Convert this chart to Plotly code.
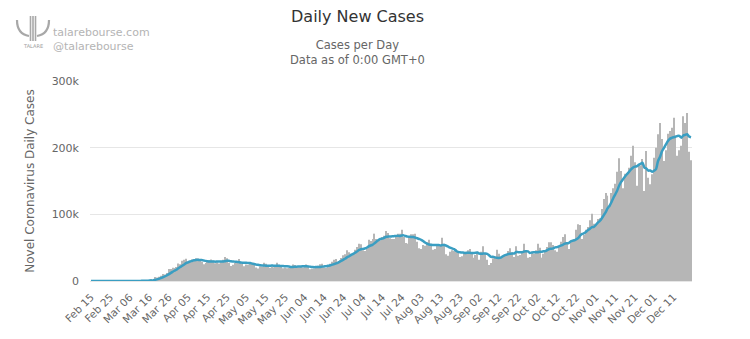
import pandas as pd
import plotly.graph_objects as go

start_date = "2020-02-15"

# Daily new cases, Feb 15 2020 .. Dec 20 2020 (one value per day)
daily_cases = [
    # Feb 15-21
    0, 0, 0, 0, 0, 0, 0,
    # Feb 22-28
    0, 0, 0, 0, 0, 0, 0,
    # Feb 29-Mar 6
    8, 8, 23, 21, 31, 68, 45,
    # Mar 7-13
    140, 116, 65, 376, 322, 382, 516,
    # Mar 14-20
    548, 772, 1133, 1789, 1362, 5894, 5423,
    # Mar 21-27
    6389, 7787, 10571, 9893, 12042, 18058, 17821,
    # Mar 28-Apr 3
    19821, 19408, 20921, 26365, 25200, 30390, 31824,
    # Apr 4-10
    33264, 28219, 29595, 32105, 32133, 34037, 33752,
    # Apr 11-17
    29861, 28917, 25306, 27051, 29164, 31667, 32165,
    # Apr 18-24
    30833, 26641, 28123, 26091, 28702, 31900, 36000,
    # Apr 25-May 1
    34000, 27500, 22400, 24400, 27300, 29500, 33000,
    # May 2-8
    29500, 25500, 22300, 24900, 24400, 28600, 27300,
    # May 9-15
    25500, 20300, 18600, 22000, 21500, 27500, 26000,
    # May 16-22
    24000, 19700, 22000, 20500, 21600, 27300, 24400,
    # May 23-29
    22000, 19200, 19900, 19300, 19500, 22600, 24900,
    # May 30-Jun 5
    24000, 20700, 20700, 21100, 20300, 22400, 24800,
    # Jun 6-12
    22600, 17700, 18300, 18900, 21900, 23000, 25300,
    # Jun 13-19
    25800, 20100, 19500, 24000, 25700, 29000, 32000,
    # Jun 20-26
    33000, 27000, 31000, 34500, 38700, 40000, 46000,
    # Jun 27-Jul 3
    43000, 41000, 41000, 47000, 51000, 56000, 55000,
    # Jul 4-10
    46000, 45000, 49000, 62000, 60000, 63000, 71000,
    # Jul 11-17
    63000, 61000, 61000, 66000, 68000, 75000, 72000,
    # Jul 18-24
    64000, 63000, 63000, 68000, 71000, 71000, 77000,
    # Jul 25-31
    66000, 57000, 56000, 66000, 70000, 70000, 71000,
    # Aug 1-7
    59000, 49000, 48000, 54000, 53000, 58000, 62000,
    # Aug 8-14
    56000, 47000, 48000, 54000, 54000, 53000, 65000,
    # Aug 15-21
    56000, 40000, 38000, 44000, 46000, 45000, 48000,
    # Aug 22-28
    44000, 36000, 37000, 41000, 44000, 46000, 48000,
    # Aug 29-Sep 4
    43000, 35000, 39000, 44000, 32000, 44000, 52000,
    # Sep 5-11
    42000, 32000, 24000, 27000, 34000, 37000, 47000,
    # Sep 12-18
    41000, 35000, 37000, 39000, 40000, 45000, 49000,
    # Sep 19-25
    43000, 36000, 52000, 38000, 39000, 45000, 56000,
    # Sep 26-Oct 2
    46000, 35000, 36000, 43000, 41000, 46000, 56000,
    # Oct 3-9
    50000, 35000, 41000, 45000, 51000, 58000, 58000,
    # Oct 10-16
    54000, 46000, 44000, 53000, 59000, 66000, 70000,
    # Oct 17-23
    58000, 48000, 61000, 61000, 63000, 77000, 85000,
    # Oct 24-30
    84000, 63000, 69000, 77000, 81000, 91000, 101000,
    # Oct 31-Nov 6
    86000, 84000, 93000, 94000, 108000, 123000, 132000,
    # Nov 7-13
    128000, 110000, 132000, 139000, 146000, 164000, 184000,
    # Nov 14-20
    165000, 139000, 161000, 162000, 170000, 188000, 203000,
    # Nov 21-27
    178000, 143000, 175000, 173000, 183000, 135000, 195000,
    # Nov 28-Dec 4
    155000, 145000, 160000, 185000, 200000, 220000, 237000,
    # Dec 5-11
    213000, 180000, 196000, 221000, 225000, 230000, 245000,
    # Dec 12-18
    218000, 188000, 196000, 203000, 247000, 237000, 252000,
    # Dec 19-20
    194000, 181000,
]

# 7-day moving average line (thousands of cases), Feb 15 .. Dec 20
moving_avg_k = [
    # Feb 15-28
    0, 0, 0, 0, 0, 0, 0, 0, 0, 0, 0, 0, 0, 0,
    # Feb 29-Mar 6
    0, 0, 0, 0, 0, 0, 0.03,
    # Mar 7-13
    0.05, 0.06, 0.07, 0.12, 0.16, 0.21, 0.27,
    # Mar 14-20
    0.33, 0.43, 0.58, 0.78, 0.93, 1.72, 2.42,
    # Mar 21-27
    3.25, 4.25, 5.60, 6.76, 8.29, 10.02, 11.79,
    # Mar 28-Apr 3
    13.71, 15.37, 16.85, 19.21, 21.08, 22.85, 24.85,
    # Apr 4-10
    26.77, 28.03, 29.27, 30.09, 31.08, 31.60, 31.87,
    # Apr 11-17
    31.39, 31.49, 30.87, 30.15, 29.73, 29.39, 29.16,
    # Apr 18-24
    29.30, 28.98, 29.38, 29.24, 29.17, 29.21, 29.76,
    # Apr 25-May 1
    30.21, 30.33, 29.51, 29.27, 29.07, 28.73, 28.30,
    # May 2-8
    27.66, 27.37, 27.36, 27.43, 27.01, 26.89, 26.07,
    # May 9-15
    25.50, 24.76, 24.23, 23.81, 23.40, 23.24, 23.06,
    # May 16-22
    22.84, 22.76, 23.24, 23.03, 23.04, 23.01, 22.79,
    # May 23-29
    22.50, 22.43, 22.13, 21.96, 21.66, 20.99, 21.06,
    # May 30-Jun 5
    21.34, 21.56, 21.67, 21.93, 22.04, 22.01, 22.00,
    # Jun 6-12
    21.80, 21.37, 21.03, 20.71, 20.94, 21.03, 21.10,
    # Jun 13-19
    21.56, 21.90, 22.07, 22.80, 23.34, 24.20, 25.16,
    # Jun 20-26
    26.19, 27.17, 28.81, 30.31, 32.17, 33.74, 35.74,
    # Jun 27-Jul 3
    37.17, 39.17, 40.60, 42.39, 44.14, 46.43, 47.71,
    # Jul 4-10
    48.14, 48.71, 49.86, 52.00, 53.29, 54.29, 56.57,
    # Jul 11-17
    59.00, 61.29, 63.00, 63.57, 64.71, 66.43, 66.57,
    # Jul 18-24
    66.71, 67.00, 67.29, 67.57, 68.00, 67.43, 68.14,
    # Jul 25-31
    68.43, 67.57, 66.57, 66.29, 66.14, 66.00, 65.14,
    # Aug 1-7
    64.14, 63.00, 61.86, 60.14, 57.71, 56.00, 54.71,
    # Aug 8-14
    54.29, 54.00, 54.00, 54.00, 54.14, 53.43, 53.86,
    # Aug 15-21
    53.86, 52.86, 51.43, 50.00, 48.86, 47.71, 45.29,
    # Aug 22-28
    43.57, 43.00, 42.86, 42.43, 42.14, 42.29, 42.29,
    # Aug 29-Sep 4
    42.14, 42.00, 42.29, 42.71, 41.00, 40.71, 41.29,
    # Sep 5-11
    41.14, 40.71, 38.57, 36.14, 36.43, 35.43, 34.71,
    # Sep 12-18
    34.57, 35.00, 36.86, 38.57, 39.43, 40.57, 40.86,
    # Sep 19-25
    41.14, 41.29, 43.43, 43.29, 43.14, 43.14, 44.14,
    # Sep 26-Oct 2
    44.57, 44.43, 42.14, 42.86, 43.14, 43.29, 43.29,
    # Oct 3-9
    43.86, 43.86, 44.57, 44.86, 46.29, 48.00, 48.29,
    # Oct 10-16
    48.86, 50.43, 50.86, 52.00, 53.14, 54.29, 56.00,
    # Oct 17-23
    56.57, 56.86, 59.29, 60.43, 61.00, 62.57, 64.71,
    # Oct 24-30
    68.43, 70.57, 71.71, 74.00, 76.57, 78.57, 80.86,
    # Oct 31-Nov 6
    81.14, 84.14, 87.57, 90.00, 93.86, 98.43, 102.86,
    # Nov 7-13
    108.86, 112.57, 118.14, 124.57, 130.00, 135.86, 143.29,
    # Nov 14-20
    148.57, 152.71, 156.86, 160.14, 163.57, 167.00, 169.71,
    # Nov 21-27
    171.57, 172.14, 174.14, 175.71, 177.57, 170.00, 168.86,
    # Nov 28-Dec 4
    165.57, 165.86, 163.71, 165.43, 167.86, 180.00, 186.00,
    # Dec 5-11
    194.29, 199.29, 204.43, 209.57, 213.14, 214.57, 215.71,
    # Dec 12-18
    216.43, 217.57, 217.57, 215.00, 218.14, 219.14, 220.14,
    # Dec 19-20
    216.71, 215.71,
]

y_tick_values = [0, 100000, 200000, 300000]
y_tick_labels = ["0", "100k", "200k", "300k"]

dates = pd.date_range(start_date, periods=len(daily_cases), freq="D")
moving_avg = [v * 1000 for v in moving_avg_k]
x_ticks = list(dates[::10])
x_tick_text = [d.strftime("%b %d") for d in x_ticks]

FONT = "DejaVu Sans"

fig = go.Figure()
fig.add_trace(go.Bar(
    x=dates, y=daily_cases,
    marker=dict(color="#b6b6b6", line=dict(width=0)),
    name="Daily Cases", hoverinfo="skip",
))
fig.add_trace(go.Scatter(
    x=dates, y=moving_avg, mode="lines",
    line=dict(color="#3a9ec2", width=2.5, shape="spline", smoothing=0.6),
    name="7-day moving average", hoverinfo="skip",
))

fig.update_layout(
    width=750, height=339,
    margin=dict(l=90, r=58, t=81, b=58, autoexpand=False),
    paper_bgcolor="white", plot_bgcolor="white",
    showlegend=False,
    bargap=0.45,
    font=dict(family=FONT, color="#666666"),
)
fig.update_xaxes(
    range=[dates[0] - pd.Timedelta(hours=12), dates[-1] + pd.Timedelta(hours=12)],
    tickvals=x_ticks, ticktext=x_tick_text,
    tickangle=-45, tickfont=dict(size=10.5, color="#666666", family=FONT),
    showgrid=False, showline=True, linecolor="#e6e6e6", linewidth=1,
    ticks="", zeroline=False, automargin=False, ticklabelstandoff=5,
)
fig.update_yaxes(
    range=[0, 300000], tickvals=y_tick_values, ticktext=y_tick_labels,
    tickfont=dict(size=11, color="#666666", family=FONT),
    showgrid=True, gridcolor="#e6e6e6", gridwidth=1,
    zeroline=False, showline=False, ticks="", ticklabelstandoff=10,
    title=dict(text="Novel Coronavirus Daily Cases",
               font=dict(size=12, color="#666666", family=FONT), standoff=14),
    automargin=False,
)

def px(xp):
    return (xp - 90) / 602

def py(yp):
    return 1 + (81 - yp) / 200

# Titles
fig.add_annotation(text="Daily New Cases", xref="paper", yref="paper",
                   x=px(357), y=py(16), showarrow=False,
                   font=dict(size=16, color="#333333", family=FONT),
                   xanchor="center", yanchor="middle")
fig.add_annotation(text="Cases per Day<br>Data as of 0:00 GMT+0", xref="paper", yref="paper",
                   x=px(357), y=py(52), showarrow=False,
                   font=dict(size=11.5, color="#666666", family=FONT),
                   xanchor="center", yanchor="middle", align="center")

# Watermark
fig.add_annotation(text="talarebourse.com<br>@talarebourse", xref="paper", yref="paper",
                   x=px(51), y=py(39), showarrow=False,
                   font=dict(size=11, color="#b4b4b4", family=FONT),
                   xanchor="left", yanchor="middle", align="left")

# simple logo sketch
logo_color = "#a8a8a8"
for xs in (30.5, 33, 35.5):
    fig.add_shape(type="line", xref="paper", yref="paper",
                  x0=px(xs), x1=px(xs), y0=py(16), y1=py(41),
                  line=dict(color=logo_color, width=1.6))
fig.add_shape(type="path", xref="paper", yref="paper",
              path=f"M {px(17)} {py(20)} Q {px(17)} {py(34)} {px(29)} {py(36)}",
              line=dict(color=logo_color, width=2.2))
fig.add_shape(type="path", xref="paper", yref="paper",
              path=f"M {px(49)} {py(20)} Q {px(49)} {py(34)} {px(37)} {py(36)}",
              line=dict(color=logo_color, width=2.2))
fig.add_annotation(text="TALARE", xref="paper", yref="paper",
                   x=px(33), y=py(46), showarrow=False,
                   font=dict(size=5, color="#9a9a9a", family=FONT),
                   xanchor="center", yanchor="middle")

fig.write_html("out.html", config={"displayModeBar": False})
